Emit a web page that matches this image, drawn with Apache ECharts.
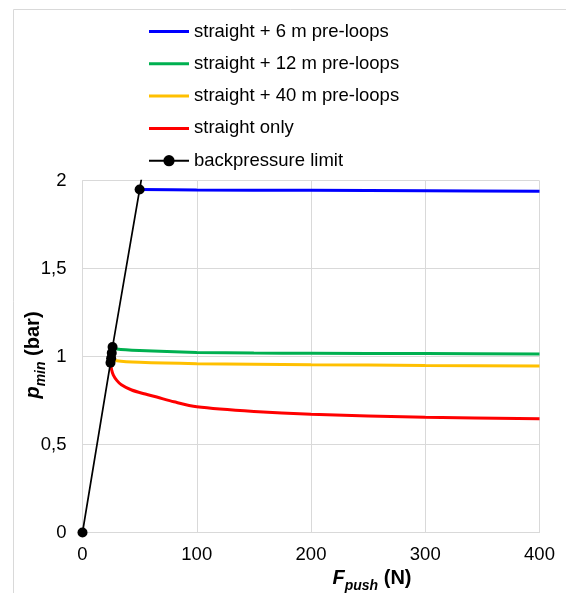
<!DOCTYPE html>
<html><head><meta charset="utf-8">
<script src="https://cdn.jsdelivr.net/npm/echarts@6/dist/echarts.min.js"></script>
<style>html,body{margin:0;padding:0;background:#fff}#c{width:566px;height:593px}</style>
</head><body><div id="c"></div>
<script>
const xTicks = [0, 100, 200, 300, 400];
const yTicks = [0, 0.5, 1, 1.5, 2];
const names = ['straight + 6 m pre-loops','straight + 12 m pre-loops','straight + 40 m pre-loops','straight only','backpressure limit'];
const blue = [[50,1.95],[100,1.947],[200,1.945],[300,1.943],[400,1.94]];
const green = [[26.3,1.055],[30,1.043],[50,1.034],[100,1.024],[150,1.02],[200,1.019],[300,1.017],[400,1.015]];
const yellow = [[25.2,0.99],[30,0.977],[50,0.968],[100,0.96],[150,0.957],[200,0.954],[300,0.95],[400,0.947]];
const red = [[24.5,0.965],[25.5,0.925],[27,0.895],[30,0.865],[34,0.84],[43,0.81],[55,0.787],[65,0.77],[80,0.743],[100,0.715],[150,0.688],[200,0.672],[300,0.655],[400,0.647]];
const limit = [[0,0],[24.5,0.965],[25.1,0.99],[25.6,1.02],[26.3,1.055],[50,1.95]];
const limitBeyond = [55,2.14];

const chart = echarts.init(document.getElementById('c'), null, {renderer:'canvas'});
const font = 'Liberation Sans, Arial, sans-serif';
const grid = '#d9d9d9';
const lineIcon = 'path://M0 0L40 0L40 3L0 3Z';
const lineS = (name, color, data) => ({
  name, type:'line', data, showSymbol:false, symbol:'none', smooth:0.3,
  lineStyle:{color, width:3}, itemStyle:{color}, clip:true, z:2
});
chart.setOption({
  animation:false,
  textStyle:{fontFamily:font},
  legend:{
    orient:'vertical', left:143, top:17, itemWidth:40, itemHeight:14, itemGap:13.3,
    symbolKeepAspect:true,
    textStyle:{fontSize:18.5, color:'#000', fontFamily:font},
    data:[
      {name:names[0], icon:lineIcon},
      {name:names[1], icon:lineIcon},
      {name:names[2], icon:lineIcon},
      {name:names[3], icon:lineIcon},
      {name:names[4]}
    ]
  },
  grid:{left:82.5, top:180.7, width:457, height:351.8, containLabel:false},
  xAxis:{type:'value', min:0, max:400, interval:100,
    axisLine:{show:true, lineStyle:{color:grid, width:1}}, axisTick:{show:false},
    axisLabel:{fontSize:18.5, color:'#000', margin:13, fontFamily:font},
    splitLine:{show:true, lineStyle:{color:grid, width:1}}},
  yAxis:{type:'value', min:0, max:2, interval:0.5,
    axisLine:{show:true, lineStyle:{color:grid, width:1}}, axisTick:{show:false},
    axisLabel:{fontSize:18.5, color:'#000', margin:16, fontFamily:font,
      formatter:v=>String(v).replace('.',',')},
    splitLine:{show:true, lineStyle:{color:grid, width:1}}},
  series:[
    lineS(names[0], '#0000FF', blue),
    lineS(names[1], '#00B050', green),
    lineS(names[2], '#FFC000', yellow),
    lineS(names[3], '#FF0000', red),
    {name:names[4], type:'line', data:[...limit, {value:limitBeyond, symbol:'none'}],
      symbol:'circle', symbolSize:10, showSymbol:true, clip:true, z:5,
      lineStyle:{color:'#000', width:1.7}, itemStyle:{color:'#000'}}
  ],
  graphic:[
    {type:'rect', shape:{x:13.5, y:9.5, width:600, height:600}, style:{fill:null, stroke:'#d9d9d9', lineWidth:1}, silent:true, z:-10},
    {type:'text', x:372, y:578, style:{
      text:'{a|F}{b|push}{c| (N)}', align:'center', verticalAlign:'middle',
      rich:{
        a:{fontSize:20, fontWeight:'bold', fontStyle:'italic', fill:'#000', lineHeight:30, fontFamily:font},
        b:{fontSize:14, fontWeight:'bold', fontStyle:'italic', fill:'#000', lineHeight:14, verticalAlign:'bottom', fontFamily:font},
        c:{fontSize:20, fontWeight:'bold', fill:'#000', lineHeight:30, fontFamily:font}
      }}},
    {type:'text', x:33, y:355, rotation:Math.PI/2, style:{
      text:'{a|p}{b|min}{c| (bar)}', align:'center', verticalAlign:'middle',
      rich:{
        a:{fontSize:20, fontWeight:'bold', fontStyle:'italic', fill:'#000', lineHeight:30, fontFamily:font},
        b:{fontSize:14, fontWeight:'bold', fontStyle:'italic', fill:'#000', lineHeight:14, verticalAlign:'bottom', fontFamily:font},
        c:{fontSize:20, fontWeight:'bold', fill:'#000', lineHeight:30, fontFamily:font}
      }}}
  ]
});
</script></body></html>
